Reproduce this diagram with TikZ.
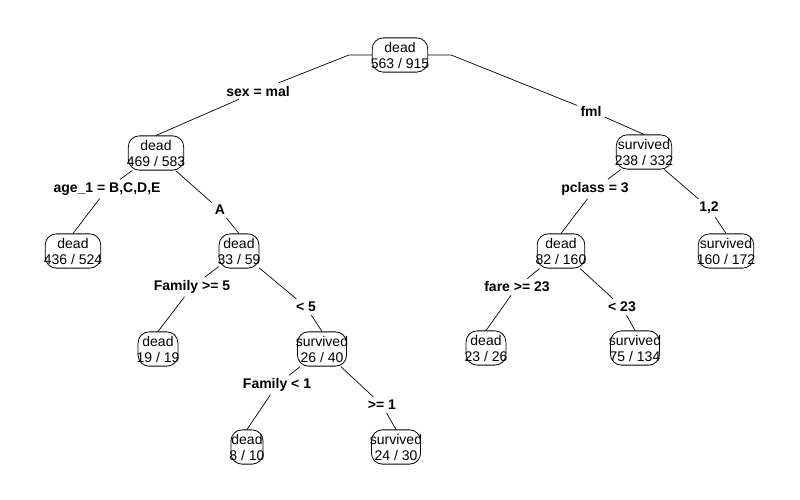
\documentclass[tikz,border=0pt]{standalone}
\usepackage{fontspec}
\setmainfont{Liberation Sans}
\usetikzlibrary{positioning}

\begin{document}
\begin{tikzpicture}[
        x=1pt, y=-1pt,
        % Styles
        leaf/.style={draw, line width=0.8pt, rounded corners=11pt, fill=white, align=center, inner xsep=-1.5pt, inner ysep=4pt, font=\fontsize{14}{16}\selectfont},
        split/.style={font=\fontsize{14}{16}\selectfont\bfseries, inner sep=3pt},
        branch/.style={draw, line width=0.7pt},
    ]
        \useasboundingbox (0,0) rectangle (800,500);

        % === Root ===
        \node[leaf] (root) at (400,55) {dead\\563 / 915};

        % === Second level ===
        \node[leaf] (nL) at (156,153) {dead\\469 / 583};
        \node[leaf] (nR) at (644,152) {survived\\238 / 332};

        % === Third level ===
        \node[leaf] (nLL) at (73,251) {dead\\436 / 524};
        \node[leaf] (nLR) at (239,251) {dead\\33 / 59};
        \node[leaf] (nRL) at (561,251) {dead\\82 / 160};
        \node[leaf] (nRR) at (726,251) {survived\\160 / 172};

        % === Fourth level ===
        \node[leaf] (nLRL) at (158,349) {dead\\19 / 19};
        \node[leaf] (nLRR) at (322,349) {survived\\26 / 40};
        \node[leaf] (nRLL) at (486,348) {dead\\23 / 26};
        \node[leaf] (nRLR) at (635,348) {survived\\75 / 134};

        % === Fifth level ===
        \node[leaf] (nLRRL) at (247,447) {dead\\8 / 10};
        \node[leaf] (nLRRR) at (396,447) {survived\\24 / 30};

        % === Split labels ===
        \node[split] (lblL) at (258,91) {sex = mal};
        \node[split] (lblR) at (591,111) {fml};
        \node[split] (lblLL) at (107,189) {age\_1 = B,C,D,E};
        \node[split] (lblLR) at (220,210) {A};
        \node[split] (lblRL) at (595,189) {pclass = 3};
        \node[split] (lblRR) at (709,208) {1,2};
        \node[split] (lblLRL) at (192,287) {Family >= 5};
        \node[split] (lblLRR) at (306,307) {< 5};
        \node[split] (lblRLL) at (517,287) {fare >= 23};
        \node[split] (lblRLR) at (622,307) {< 23};
        \node[split] (lblLRRL) at (277,385) {Family < 1};
        \node[split] (lblLRRR) at (382,405) {>= 1};

        % === Branches ===
        \draw[branch] (root.west) -- ++(-23,0) -- (lblL);
        \draw[branch] (lblL) -- (nL.north);
        \draw[branch] (root.east) -- ++(23,0) -- (lblR);
        \draw[branch] (lblR) -- (nR.north);

        \draw[branch] (nL) -- (lblLL);
        \draw[branch] (lblLL) -- (nLL.north);
        \draw[branch] (nL) -- (lblLR);
        \draw[branch] (lblLR) -- (nLR.north);

        \draw[branch] (nR) -- (lblRL);
        \draw[branch] (lblRL) -- (nRL.north);
        \draw[branch] (nR) -- (lblRR);
        \draw[branch] (lblRR) -- (nRR.north);

        \draw[branch] (nLR) -- (lblLRL);
        \draw[branch] (lblLRL) -- (nLRL.north);
        \draw[branch] (nLR) -- (lblLRR);
        \draw[branch] (lblLRR) -- (nLRR.north);

        \draw[branch] (nRL) -- (lblRLL);
        \draw[branch] (lblRLL) -- (nRLL.north);
        \draw[branch] (nRL) -- (lblRLR);
        \draw[branch] (lblRLR) -- (nRLR.north);

        \draw[branch] (nLRR) -- (lblLRRL);
        \draw[branch] (lblLRRL) -- (nLRRL.north);
        \draw[branch] (nLRR) -- (lblLRRR);
        \draw[branch] (lblLRRR) -- (nLRRR.north);

    \end{tikzpicture}
\end{document}
